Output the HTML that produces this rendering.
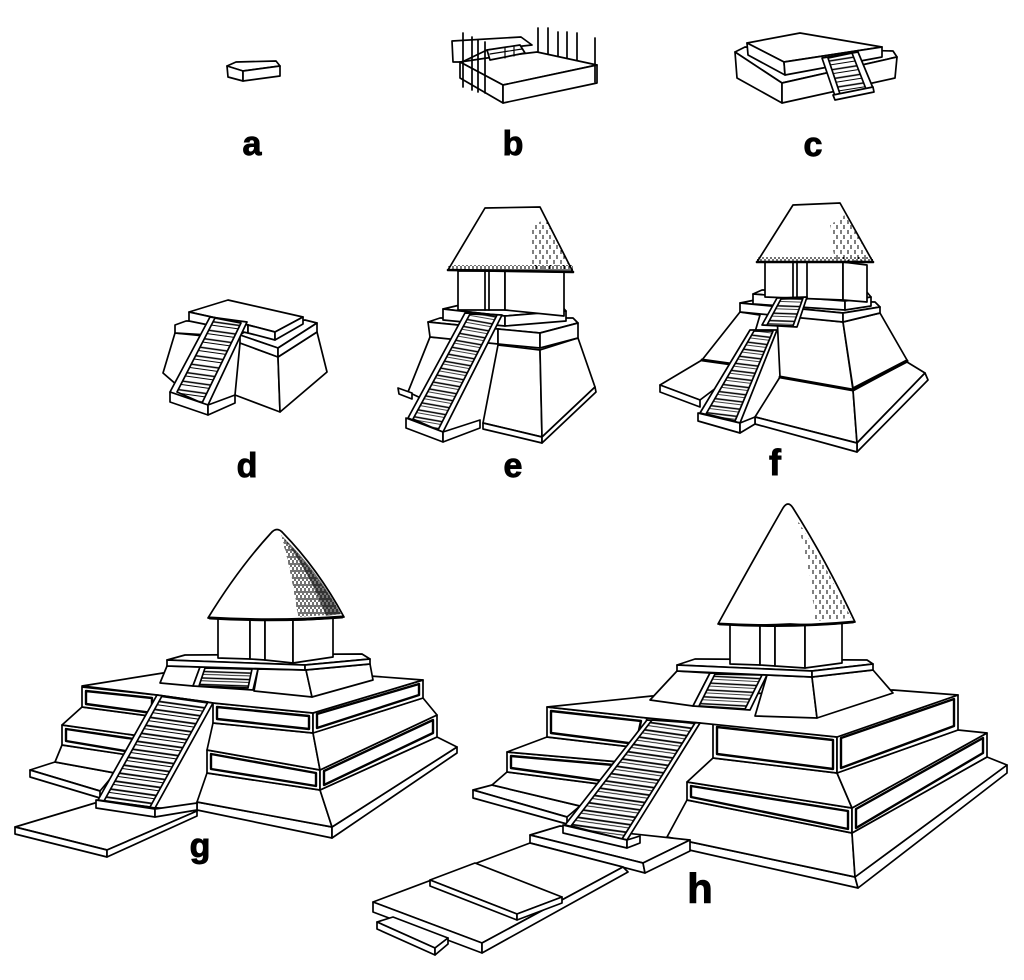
<!DOCTYPE html>
<html><head><meta charset="utf-8">
<style>
html,body{margin:0;padding:0;background:#fff;}
svg{display:block;}
text{font-family:"Liberation Sans",Arial,sans-serif;font-weight:bold;fill:#000;stroke:#000;stroke-width:0.9;text-anchor:middle;}
</style></head><body>
<svg width="1024" height="980" viewBox="0 0 1024 980" xmlns="http://www.w3.org/2000/svg">
<defs>
<pattern id="stc" width="40" height="9" patternUnits="userSpaceOnUse" patternTransform="rotate(-9)"><rect width="40" height="9" fill="#fff"/><path d="M0,1H40" stroke="#000" stroke-width="1.6"/><path d="M0,5H40" stroke="#000" stroke-width="0.9"/></pattern>
<pattern id="std" width="40" height="9" patternUnits="userSpaceOnUse" patternTransform="rotate(8)"><rect width="40" height="9" fill="#fff"/><path d="M0,1H40" stroke="#000" stroke-width="1.6"/><path d="M0,4.5H40" stroke="#000" stroke-width="0.9"/></pattern>
<pattern id="ste" width="40" height="7.5" patternUnits="userSpaceOnUse" patternTransform="rotate(10)"><rect width="40" height="7.5" fill="#fff"/><path d="M0,1H40" stroke="#000" stroke-width="1.6"/><path d="M0,4H40" stroke="#000" stroke-width="0.8"/></pattern>
<pattern id="stf" width="40" height="7.5" patternUnits="userSpaceOnUse" patternTransform="rotate(7)"><rect width="40" height="7.5" fill="#fff"/><path d="M0,1H40" stroke="#000" stroke-width="1.6"/><path d="M0,4H40" stroke="#000" stroke-width="0.8"/></pattern>
<pattern id="stf2" width="40" height="7.5" patternUnits="userSpaceOnUse" patternTransform="rotate(2)"><rect width="40" height="7.5" fill="#fff"/><path d="M0,1H40" stroke="#000" stroke-width="1.6"/><path d="M0,4H40" stroke="#000" stroke-width="0.8"/></pattern>
<pattern id="stg" width="60" height="8.5" patternUnits="userSpaceOnUse" patternTransform="rotate(8)"><rect width="60" height="8.5" fill="#fff"/><path d="M0,1H60" stroke="#000" stroke-width="1.8"/><path d="M0,4.5H60" stroke="#000" stroke-width="0.9"/></pattern>
<pattern id="stg2" width="60" height="6.5" patternUnits="userSpaceOnUse" patternTransform="rotate(2)"><rect width="60" height="6.5" fill="#fff"/><path d="M0,1H60" stroke="#000" stroke-width="1.6"/><path d="M0,3.8H60" stroke="#000" stroke-width="0.8"/></pattern>
<pattern id="sth" width="60" height="8" patternUnits="userSpaceOnUse" patternTransform="rotate(8)"><rect width="60" height="8" fill="#fff"/><path d="M0,1H60" stroke="#000" stroke-width="1.8"/><path d="M0,4.3H60" stroke="#000" stroke-width="0.9"/></pattern>
<pattern id="sth2" width="60" height="7" patternUnits="userSpaceOnUse" patternTransform="rotate(3)"><rect width="60" height="7" fill="#fff"/><path d="M0,1H60" stroke="#000" stroke-width="1.6"/><path d="M0,4H60" stroke="#000" stroke-width="0.8"/></pattern>
<pattern id="thd" width="4" height="7" patternUnits="userSpaceOnUse"><path d="M1,0V5 M3,3V8" stroke="#000" stroke-width="1.1" fill="none"/></pattern>
<pattern id="thl" width="7" height="10" patternUnits="userSpaceOnUse"><path d="M1,0V4 M4,5V9" stroke="#000" stroke-width="1" fill="none"/></pattern>
</defs>
<rect width="1024" height="980" fill="#fff"/>
<g fill="#fff" stroke="#000" stroke-width="1.7" stroke-linejoin="round" stroke-linecap="round">

<!-- a -->
<polygon points="227,66 236,62 276,61 280,66 243,71"/>
<polygon points="227,66 243,71 243,81 228,77"/>
<polygon points="243,71 280,66 280,76 243,81"/>

<!-- b -->
<path d="M538,28V53 M548,28V55 M558,32V57 M567,32V58 M577,33V60" fill="none"/>
<polygon points="452,41 521,37 532,45 487,50 462,62 453,62"/>
<polygon points="460,62 487,58 537,52 597,65 503,85"/>
<polygon points="460,62 503,85 503,103 460,78"/>
<polygon points="503,85 597,65 597,83 503,103"/>
<polygon points="487,50 520,45 525,53 490,60"/>
<path d="M490,54 L522,49 M505,48 V58 M514,47 V56" fill="none" stroke-width="1.2"/>
<path d="M463,33V87 M472,37V90 M478,40V92 M485,42V93 M595,38V82" fill="none"/>

<!-- c -->
<polygon points="735,52 745,47 893,51 897,57 782,83"/>
<polygon points="735,52 782,83 782,103 737,78"/>
<polygon points="782,83 897,57 895,78 782,103"/>
<polygon points="747,43 800,33 882,47 784,62"/>
<polygon points="747,43 784,62 785,75 748,55"/>
<polygon points="784,62 882,47 882,57 785,75"/>
<polygon points="822,58 858,52 873,88 835,96"/>
<polygon points="828,58 852,53 866,89 840,94" fill="url(#stc)"/>
<polygon points="833,95 873,87 874,92 835,100"/>

<!-- d -->
<polygon points="175,333 205,336 185,392 163,373"/>
<polygon points="240,343 278,357 280,412 235,395"/>
<polygon points="278,357 317,332 327,372 280,412"/>
<polygon points="175,325 186,321 212,321 208,335 175,333"/>
<polygon points="240,335 250,328 305,320 317,323 278,348"/>
<polygon points="240,335 278,348 278,357 240,343"/>
<polygon points="278,348 317,323 317,332 278,357"/>
<polygon points="189,312 228,300 303,317 275,332 248,325"/>
<polygon points="189,312 248,325 248,333 189,321"/>
<polygon points="248,325 275,332 275,340 248,333"/>
<polygon points="275,332 303,317 303,324 275,340"/>
<polygon points="210,317 247,322 208,405 170,392"/>
<polygon points="215,318 241,323 202,403 177,392" fill="url(#std)"/>
<polygon points="170,392 208,405 208,415 170,402"/>
<polygon points="208,405 235,395 235,403 208,415"/>

<!-- e -->
<polygon points="430,337 470,340 425,400 408,392"/>
<polygon points="398,388 412,393 412,399 399,394"/>
<polygon points="498,345 540,350 542,437 483,423"/>
<polygon points="540,350 578,338 595,387 542,437"/>
<polygon points="483,423 542,437 542,443 483,429"/>
<polygon points="542,437 595,387 596,392 542,443"/>
<polygon points="428,322 440,318 573,318 578,323 540,333 498,329"/>
<polygon points="428,322 498,329 498,344 430,337"/>
<polygon points="498,329 540,333 540,348 498,344"/>
<polygon points="540,333 578,323 578,338 540,348"/>
<polygon points="443,309 460,305 560,304 566,311 505,316"/>
<polygon points="443,309 505,316 505,326 443,320"/>
<polygon points="505,316 566,311 566,321 505,326"/>
<polygon points="458,271 505,271 505,310 458,310"/>
<polygon points="505,271 564,272 564,316 505,310"/>
<path d="M485,271V310 M489,271V310" fill="none"/>
<polygon points="485,208 540,207 573,272 448,270"/>
<polygon points="530,228 546,218 572,270 533,270" fill="url(#thl)" stroke="none"/>
<polygon points="448,265 573,265 573,272 448,270" fill="url(#thd)" stroke="none"/>
<path d="M448,270 L573,272" fill="none" stroke-width="2.6"/>
<polygon points="465,313 502,315 443,432 408,418"/>
<polygon points="470,314 497,315 438,430 413,419" fill="url(#ste)"/>
<polygon points="406,418 443,432 443,442 406,428"/>
<polygon points="443,432 480,420 480,428 443,442"/>

<!-- f -->
<polygon points="660,385 702,360 745,366 700,400"/>
<polygon points="660,385 700,400 700,407 660,392"/>
<polygon points="740,312 760,315 745,366 702,360"/>
<polygon points="755,417 780,377 853,390 857,443"/>
<polygon points="777,315 843,322 853,390 780,377"/>
<polygon points="843,322 880,313 907,360 853,388"/>
<polygon points="853,390 907,362 925,373 857,443"/>
<polygon points="857,443 925,373 928,380 857,452"/>
<polygon points="755,417 857,443 857,452 755,424"/>
<path d="M702,360 L745,366 M780,377 L853,390 L907,361" fill="none" stroke-width="3"/>
<polygon points="740,303 755,300 875,302 880,307 843,313"/>
<polygon points="740,303 843,313 843,322 740,312"/>
<polygon points="843,313 880,307 880,313 843,322"/>
<polygon points="753,294 762,290 866,291 871,297 845,301"/>
<polygon points="753,294 845,301 845,310 753,304"/>
<polygon points="845,301 871,297 871,306 845,310"/>
<polygon points="765,262 843,262 843,300 765,297"/>
<polygon points="843,262 867,265 867,302 843,300"/>
<path d="M793,262V298 M797,262V298 M807,262V299" fill="none"/>
<polygon points="793,205 840,203 873,262 757,262"/>
<polygon points="830,225 845,215 872,260 835,262" fill="url(#thl)" stroke="none"/>
<polygon points="757,257 873,257 873,262 757,262" fill="url(#thd)" stroke="none"/>
<path d="M757,262 L873,262" fill="none" stroke-width="2.6"/>
<polygon points="777,298 807,297 797,327 762,325"/>
<polygon points="781,299 803,298 793,326 767,325" fill="url(#stf2)"/>
<polygon points="750,330 777,330 740,423 700,413"/>
<polygon points="754,331 773,331 735,421 706,414" fill="url(#stf)"/>
<polygon points="698,413 740,423 740,433 698,421"/>
<polygon points="740,423 755,417 755,424 740,433"/>

<!-- g -->
<polygon points="197,802 332,827 332,838 197,810"/>
<polygon points="332,827 457,747 457,753 332,838"/>
<polygon points="30,770 55,762 115,773 100,791"/>
<polygon points="30,770 100,791 100,798 30,777"/>
<polygon points="62,745 135,756 115,773 55,762"/>
<polygon points="207,773 320,790 332,827 197,802"/>
<polygon points="320,790 437,737 457,747 332,827"/>
<polygon points="62,725 140,736 135,756 62,745"/>
<polygon points="66,729 134,739 131,752 66,741" fill="none" stroke-width="2.4"/>
<polygon points="207,750 320,770 320,790 207,773"/>
<polygon points="211,754 316,773 316,786 211,769" fill="none" stroke-width="2.4"/>
<polygon points="320,770 437,715 437,737 320,790"/>
<polygon points="324,771 433,720 433,733 324,785" fill="none" stroke-width="2.4"/>
<polygon points="82,707 157,717 140,736 62,725"/>
<polygon points="213,723 313,733 320,770 207,750"/>
<polygon points="313,733 423,698 437,715 320,770"/>
<polygon points="82,687 157,695 157,717 82,707"/>
<polygon points="86,691 152,698 152,713 86,704" fill="none" stroke-width="2.4"/>
<polygon points="213,703 313,713 313,733 213,723"/>
<polygon points="217,707 309,716 309,729 217,719" fill="none" stroke-width="2.4"/>
<polygon points="313,713 423,680 423,698 313,733"/>
<polygon points="317,714 419,684 419,695 317,728" fill="none" stroke-width="2.4"/>
<polygon points="82,686 163,673 370,676 423,680 313,713 213,703 157,695"/>
<polygon points="167,666 200,667 193,686 160,683"/>
<polygon points="258,669 306,670 312,697 254,691"/>
<polygon points="306,670 370,664 373,680 312,697"/>
<polygon points="200,667 258,669 253,690 193,686"/>
<polygon points="205,668 252,669 248,688 199,686" fill="url(#stg2)"/>
<polygon points="167,660 185,655 362,654 370,659 305,665"/>
<polygon points="167,660 305,665 305,670 167,666"/>
<polygon points="305,665 370,659 370,664 305,670"/>
<polygon points="218,617 250,617 250,659 218,658"/>
<polygon points="250,617 265,617 265,660 250,659"/>
<polygon points="265,617 293,617 293,663 265,660"/>
<polygon points="293,617 333,617 333,657 293,663"/>
<path d="M208,618 Q238,569 271,533 Q277,526 283,533 Q318,569 344,617 Q300,621 276,620 Q240,620 208,618Z"/>
<path d="M281,535 Q314,569 341,614 L298,617 Q292,572 281,535Z" fill="url(#thd)" stroke="none"/>
<path d="M283,537 Q317,570 341,614 L326,616 Q312,578 283,537Z" fill="#000" fill-opacity="0.55" stroke="none"/>
<path d="M210,618 Q276,622 342,617" fill="none" stroke-width="3"/>
<polygon points="15,827 95,803 197,811 107,850"/>
<polygon points="15,827 107,850 107,857 15,834"/>
<polygon points="107,850 197,811 197,816 107,857"/>
<polygon points="157,695 213,703 155,808 98,800"/>
<polygon points="162,696 208,702 150,807 104,801" fill="url(#stg)"/>
<polygon points="96,800 155,809 155,817 96,808"/>
<polygon points="155,809 197,803 197,810 155,817"/>

<!-- h -->
<polygon points="667,837 855,877 858,888 667,845"/>
<polygon points="855,877 1007,765 1007,773 858,888"/>
<polygon points="473,790 492,785 580,806 567,817"/>
<polygon points="473,790 567,817 567,824 473,798"/>
<polygon points="507,772 615,786 580,806 492,785"/>
<polygon points="687,800 852,833 855,877 667,837"/>
<polygon points="852,833 987,757 1007,765 855,877"/>
<polygon points="507,752 620,762 615,786 507,772"/>
<polygon points="511,756 614,765 610,782 511,768" fill="none" stroke-width="2.4"/>
<polygon points="687,782 852,808 852,833 687,800"/>
<polygon points="691,786 848,811 848,829 691,797" fill="none" stroke-width="2.4"/>
<polygon points="852,808 987,733 987,757 852,833"/>
<polygon points="856,809 983,738 983,753 856,828" fill="none" stroke-width="2.4"/>
<polygon points="547,737 640,748 620,762 507,752"/>
<polygon points="713,758 837,773 852,808 687,782"/>
<polygon points="837,773 958,730 987,733 852,808"/>
<polygon points="547,707 647,718 640,748 547,737"/>
<polygon points="551,711 641,721 636,744 551,733" fill="none" stroke-width="2.4"/>
<polygon points="713,723 837,737 837,773 713,758"/>
<polygon points="717,727 833,740 833,769 717,754" fill="none" stroke-width="2.4"/>
<polygon points="837,737 958,695 958,730 837,773"/>
<polygon points="841,738 954,699 954,726 841,768" fill="none" stroke-width="2.4"/>
<polygon points="547,707 652,696 893,690 958,695 837,737 700,723 647,718"/>
<polygon points="677,671 710,673 693,706 650,700"/>
<polygon points="767,675 812,677 817,718 755,716"/>
<polygon points="812,677 873,670 893,693 817,718"/>
<polygon points="710,673 767,675 750,710 693,706"/>
<polygon points="715,674 762,675 745,709 699,706" fill="url(#sth2)"/>
<polygon points="677,665 695,659 867,660 873,664 812,671"/>
<polygon points="677,665 812,671 812,677 677,671"/>
<polygon points="812,671 873,664 873,670 812,677"/>
<polygon points="730,623 760,623 760,665 730,664"/>
<polygon points="760,623 775,623 775,666 760,665"/>
<polygon points="775,623 805,623 805,668 775,666"/>
<polygon points="805,623 842,623 842,663 805,668"/>
<path d="M718,624 Q752,562 783,508 Q788,500 793,508 Q826,560 855,622 Q820,626 790,624 Q750,626 718,624Z"/>
<path d="M796,518 Q826,565 851,618 L815,621 Q810,562 796,518Z" fill="url(#thl)" stroke="none"/>
<path d="M720,624 Q790,628 853,622" fill="none" stroke-width="2.8"/>
<polygon points="530,835 560,826 690,840 643,863"/>
<polygon points="530,835 643,863 645,873 530,843"/>
<polygon points="643,863 690,840 690,851 645,873"/>
<polygon points="373,902 530,843 623,867 482,943"/>
<polygon points="373,902 482,943 482,953 373,912"/>
<polygon points="482,943 623,867 628,872 482,953"/>
<polygon points="430,880 475,863 562,897 517,914"/>
<polygon points="430,880 517,914 517,920 430,886"/>
<polygon points="517,914 562,897 562,903 517,920"/>
<polygon points="377,922 393,917 448,938 435,948"/>
<polygon points="377,922 435,948 435,955 377,929"/>
<polygon points="435,948 448,938 448,944 435,955"/>
<polygon points="647,720 700,723 627,840 565,825"/>
<polygon points="652,720 695,723 622,839 571,826" fill="url(#sth)"/>
<polygon points="563,825 627,840 627,848 563,833"/>
<polygon points="627,840 640,836 640,843 627,848"/>
</g>

<text x="252" y="155" font-size="34">a</text>
<text x="513" y="155" font-size="34">b</text>
<text x="813" y="156" font-size="34">c</text>
<text x="247" y="477" font-size="34">d</text>
<text x="513" y="477" font-size="34">e</text>
<text x="775" y="475" font-size="36">f</text>
<text x="200" y="857" font-size="34">g</text>
<text x="700" y="903" font-size="42">h</text>
</svg>
</body></html>
